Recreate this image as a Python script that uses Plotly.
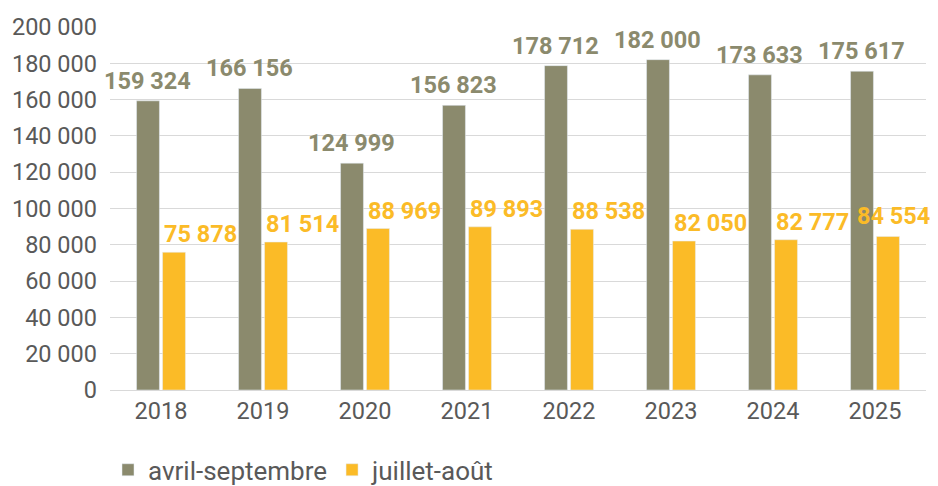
import plotly.graph_objects as go

years = ["2018", "2019", "2020", "2021", "2022", "2023", "2024", "2025"]
avril_septembre = [159324, 166156, 124999, 156823, 178712, 182000, 173633, 175617]
juillet_aout = [75878, 81514, 88969, 89893, 88538, 82050, 82777, 84554]
series_names = ["avril-septembre", "juillet-août"]
tick_vals = list(range(0, 200001, 20000))

GRAY = "#8b8a6d"
YELLOW = "#fbbb27"
TEXT = "#595959"
FONT = "Roboto"

def fmt(v):
    return f"{v:,}".replace(",", " ")

fig = go.Figure()
fig.add_trace(go.Bar(x=years, y=avril_septembre, name=series_names[0], marker_color=GRAY))
fig.add_trace(go.Bar(x=years, y=juillet_aout, name=series_names[1], marker_color=YELLOW))

# page body has an 8px margin, so the figure is drawn slightly smaller
W, H = 930, 478
ml, mr, mt, mb = 102, 12, 19, 96
plot_w = W - ml - mr
cat_w = plot_w / len(years)
bargap, groupgap = 0.49, 0.12
slot = cat_w * (1 - bargap) / 2
bar_w = slot * (1 - groupgap)

annotations = []
for i, (a, b) in enumerate(zip(avril_septembre, juillet_aout)):
    # category index (numeric) so that the year strings are not read as positions
    annotations.append(dict(
        x=i, y=a, xref="x", yref="y", text=fmt(a), showarrow=False,
        xanchor="center", yanchor="bottom", xshift=-slot / 2, yshift=4,
        font=dict(family=FONT, size=23.5, color=GRAY, weight="bold")))
    last = i == len(years) - 1
    annotations.append(dict(
        x=i, y=b, xref="x", yref="y", text=fmt(b), showarrow=False,
        xanchor="right" if last else "left", yanchor="bottom",
        xshift=(slot / 2 + bar_w / 2 + 33) if last else (slot / 2 - bar_w / 2 - 1),
        yshift=5 if last else 2,
        font=dict(family=FONT, size=23.5, color=YELLOW, weight="bold")))

fig.update_layout(
    width=W, height=H,
    margin=dict(l=ml, r=mr, t=mt, b=mb, autoexpand=False),
    paper_bgcolor="white", plot_bgcolor="white",
    barmode="group", bargap=bargap, bargroupgap=groupgap,
    separators=", ",
    font=dict(family=FONT, size=23.5, color=TEXT),
    showlegend=True,
    legend=dict(orientation="h", x=-2 / plot_w, xanchor="left", y=-0.22, yanchor="middle",
                font=dict(family=FONT, size=26, color=TEXT), itemwidth=30),
    annotations=annotations,
)
fig.update_yaxes(range=[0, 200000], autorange=False, tickvals=tick_vals, tickformat=",d",
                 showgrid=True, gridcolor="#d9d9d9", gridwidth=1.3,
                 zeroline=False, ticks="", ticklabelstandoff=12, automargin=False,
                 tickfont=dict(family=FONT, size=23.5, color=TEXT))
fig.update_xaxes(type="category", categoryorder="array", categoryarray=years,
                 range=[-0.5, len(years) - 0.5], autorange=False,
                 showline=True, linecolor="#d9d9d9", linewidth=1.3,
                 ticks="", automargin=False,
                 tickfont=dict(family=FONT, size=23.5, color=TEXT))

fig.write_html("out.html")
